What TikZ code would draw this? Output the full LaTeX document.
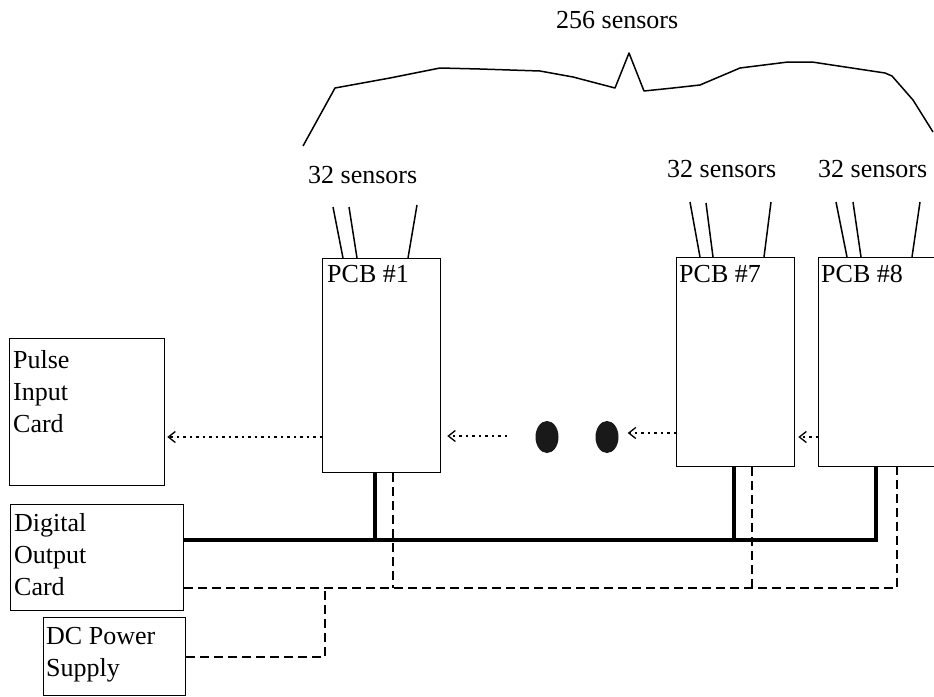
\documentclass[tikz,border=0pt]{standalone}
\usepackage{fontspec}
\setmainfont{Liberation Serif}
\usetikzlibrary{arrows.meta,calc,shapes.geometric}
\begin{document}
\begin{tikzpicture}[x=1pt,y=-1pt,
  font=\fontsize{26}{32}\selectfont,
  box/.style={draw, line width=1.3pt, rectangle, inner sep=0pt, anchor=north west},
  lbl/.style={inner sep=0pt, anchor=base west},
  mlbl/.style={inner sep=0pt, anchor=north west, align=left},
  wire/.style={line width=1.5pt},
  bus/.style={line width=4pt},
  dsh/.style={line width=1.3pt, dash pattern=on 9pt off 5pt},
  darrow/.style={line width=1.3pt, dash pattern=on 2.5pt off 4pt, -{Straight Barb[length=7pt,width=11pt,line width=1.3pt]}},
  blob/.style={ellipse, fill=black!90, minimum width=23pt, minimum height=32pt, inner sep=0pt}]
\clip (0,0) rectangle (934,696);
\fill[white] (0,0) rectangle (934,696);

% brace
\draw[wire, line join=round] (303,146) coordinate (bl) -- (335,88) -- (390,78) -- (440,68) -- (480,69) -- (540,71) -- (573,77) -- (615,88) -- (629,53) -- (644,91) -- (673,88) -- (700,85) -- (740,68) -- (788,62) -- (812,62) -- (885,73) -- (892,76) -- (913,100) -- (933,132) coordinate (br);
\node[lbl] (t256) at (556,28) {256 sensors};

% boxes
\node[box, minimum width=155pt, minimum height=147pt] (pulse) at (9,338) {};
\node[mlbl] (tpulse) at (13,350) {Pulse\\Input\\Card};
\node[box, minimum width=173pt, minimum height=106pt] (doc) at (10,504) {};
\node[mlbl] (tdoc) at (14,513) {Digital\\Output\\Card};
\node[box, minimum width=142pt, minimum height=78pt] (dc) at (43,617) {};
\node[mlbl] (tdc) at (46,627) {DC Power\\Supply};

\node[box, minimum width=118pt, minimum height=214pt] (pcb1) at (322,258) {};
\node[lbl] (tp1) at (327,282) {PCB \#1};
\node[box, minimum width=118pt, minimum height=209pt] (pcb7) at (676,257) {};
\node[lbl] (tp7) at (679,282) {PCB \#7};
\node[box, minimum width=130pt, minimum height=209pt] (pcb8) at (818,257) {};
\node[lbl] (tp8) at (821,282) {PCB \#8};

% sensor labels
\node[lbl] (s1) at (308,183) {32 sensors};
\node[lbl] (s7) at (667,177) {32 sensors};
\node[lbl] (s8) at (818,177) {32 sensors};

% sensor wires
\draw[wire] (333,207) -- ([xshift=21pt]pcb1.north west);
\draw[wire] (349,207) -- ([xshift=35pt]pcb1.north west);
\draw[wire] (417,205) -- ([xshift=86pt]pcb1.north west);
\draw[wire] (690,202) -- ([xshift=24pt]pcb7.north west);
\draw[wire] (706,203) -- ([xshift=37pt]pcb7.north west);
\draw[wire] (771,202) -- ([xshift=88pt]pcb7.north west);
\draw[wire] (836,202) -- ([xshift=29pt]pcb8.north west);
\draw[wire] (853,202) -- ([xshift=43pt]pcb8.north west);
\draw[wire] (920,202) -- ([xshift=94pt]pcb8.north west);

% dots
\node[blob] (dot1) at (547,437) {};
\node[blob] (dot2) at (607,437) {};

% dotted arrows
\draw[darrow] (pcb1.west |- dot1) -- ([xshift=2pt]pulse.east |- dot1);
\coordinate (a2s) at (507,436);
\draw[darrow] (a2s) -- ([xshift=6pt]pcb1.east |- a2s);
\coordinate (a7y) at (676,433);
\draw[darrow] (pcb7.west |- a7y) -- ([xshift=9pt]dot2.east |- a7y);
\draw[darrow] (pcb8.west |- dot2) -- ([xshift=3pt]pcb7.east |- dot2);

% bus
\coordinate (bR) at (876,540);
\coordinate (t1) at (375,540);
\coordinate (t7) at (734,540);
\draw[bus] (doc.east |- bR) -- (bR) -- (bR |- pcb8.south);
\draw[bus] (t1) -- (t1 |- pcb1.south);
\draw[bus] (t7) -- (t7 |- pcb7.south);

% power (dashed)
\coordinate (dR) at (897,588);
\coordinate (d1) at (393,588);
\coordinate (d7) at (752,588);
\coordinate (dc1) at (325,657);
\draw[dsh] (doc.east |- dR) -- (dR) -- (dR |- pcb8.south);
\draw[dsh] (d1 |- pcb1.south) -- (d1);
\draw[dsh] (d7 |- pcb7.south) -- (d7);
\draw[dsh] (dc.east |- dc1) -- (dc1) -- (dc1 |- dR);
\end{tikzpicture}
\end{document}
